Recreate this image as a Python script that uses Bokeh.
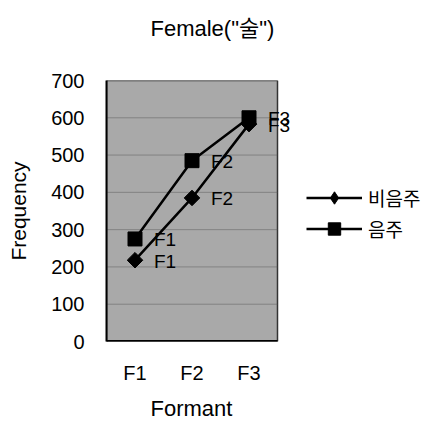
import numpy as np
from bokeh.plotting import figure
from bokeh.models import (ColumnDataSource, Range1d, Legend, LegendItem,
                          Title, FixedTicker)
from bokeh.core.properties import value
from bokeh.embed import file_html
from bokeh.resources import INLINE

formants = ["F1", "F2", "F3"]
non_drinking = [218, 385, 583]   # 비음주
drinking = [275, 485, 600]       # 음주
point_labels = ["F1", "F2", "F3"]
series_names = ["비음주", "음주"]
y_ticks = [0, 100, 200, 300, 400, 500, 600, 700]
title_text = 'Female("술")'
x_title = "Formant"
y_title = "Frequency"

FONT = "Liberation Sans, Noto Sans CJK KR"

n = len(formants)
xs = [i + 0.5 for i in range(n)]          # category centres
cat_px = 57.0                               # pixels per category
frame_left = 106
fig_w, fig_h = 441, 427
x_end = (fig_w - frame_left) / cat_px       # frame extends to right edge (room for legend/labels)

p = figure(width=fig_w, height=fig_h, output_backend="svg", toolbar_location=None,
           x_range=Range1d(0, x_end), y_range=Range1d(y_ticks[0], y_ticks[-1]),
           min_border_left=frame_left, min_border_right=0, min_border_top=80,
           min_border_bottom=82, title=None)

p.background_fill_color = "white"
p.border_fill_color = "white"
p.outline_line_color = None
p.xgrid.grid_line_color = None
p.ygrid.grid_line_color = None

# plot area (gray) limited to the category span
p.quad(left=[0], right=[n], bottom=[y_ticks[0]], top=[y_ticks[-1]],
       fill_color="#a9a9a9", line_color="#333333", line_width=1.5)
# horizontal gridlines
p.segment(x0=[0] * len(y_ticks), x1=[n] * len(y_ticks), y0=y_ticks, y1=y_ticks,
          line_color="#555555", line_alpha=0.45, line_width=1)
# bottom axis line only across the plot area
p.segment(x0=[0], x1=[n], y0=[y_ticks[0]], y1=[y_ticks[0]], line_color="black", line_width=3)

p.xaxis.ticker = FixedTicker(ticks=xs)
p.xaxis.major_label_overrides = {x: f for x, f in zip(xs, formants)}
p.yaxis.ticker = FixedTicker(ticks=y_ticks)

for ax in (p.xaxis[0], p.yaxis[0]):
    ax.axis_line_color = "black"
    ax.axis_line_width = 2
    ax.major_tick_out = 0
    ax.major_tick_in = 0
    ax.minor_tick_out = 0
    ax.minor_tick_in = 0
    ax.major_label_text_font = FONT
    ax.major_label_text_font_size = "20px"
    ax.major_label_text_color = "black"
    ax.axis_label_text_font = FONT
    ax.axis_label_text_font_size = "21px"
    ax.axis_label_text_font_style = "normal"
    ax.axis_label_text_color = "black"
p.xaxis.axis_line_color = None

p.yaxis.axis_label = y_title
p.xaxis.major_label_standoff = 20
p.yaxis.major_label_standoff = 22
p.yaxis.axis_label_standoff = 18

src1 = ColumnDataSource(dict(x=xs, y=non_drinking, lab=point_labels))
src2 = ColumnDataSource(dict(x=xs, y=drinking, lab=point_labels))

l1 = p.line("x", "y", source=src1, line_color="black", line_width=2.5)
m1 = p.scatter("x", "y", source=src1, marker="square", angle=np.pi / 4, size=11,
               fill_color="black", line_color="black")
l2 = p.line("x", "y", source=src2, line_color="black", line_width=2.5)
m2 = p.scatter("x", "y", source=src2, marker="square", size=14,
               fill_color="black", line_color="black")

# legend-only diamond marker (hidden in the plot itself)
lg1 = p.scatter("x", "y", source=src1, marker="diamond", size=14,
                fill_color="black", line_color="black", visible=False)

for src in (src1, src2):
    p.text("x", "y", text="lab", source=src, x_offset=19, y_offset=1,
           text_font=value(FONT), text_font_size="19px", text_color="black",
           text_baseline="middle", text_align="left")

legend = Legend(items=[LegendItem(label=series_names[0], renderers=[l1, lg1]),
                       LegendItem(label=series_names[1], renderers=[l2, m2])],
                location=(200, 97), orientation="vertical",
                glyph_width=56, glyph_height=31, label_height=20, spacing=0,
                label_standoff=6, padding=0, margin=0,
                background_fill_alpha=0, border_line_color=None,
                label_text_font=FONT, label_text_font_size="19px",
                label_text_color="black")
p.add_layout(legend, "center")

# spacer (closest to the frame) then the real title above it
spacer = Title(text=" ", standoff=14, text_font=FONT, text_font_size="20px")
p.add_layout(spacer, "above")
t = Title(text=title_text, align="left", offset=44, standoff=4,
          text_font=FONT, text_font_size="22px", text_font_style="normal",
          text_color="black")
p.add_layout(t, "above")

# x axis title centred under the category span
xt = Title(text=x_title, align="left", offset=44, standoff=14,
           text_font=FONT, text_font_size="22px", text_font_style="normal",
           text_color="black")
p.add_layout(xt, "below")

open("out.html", "w").write(file_html(p, INLINE))
